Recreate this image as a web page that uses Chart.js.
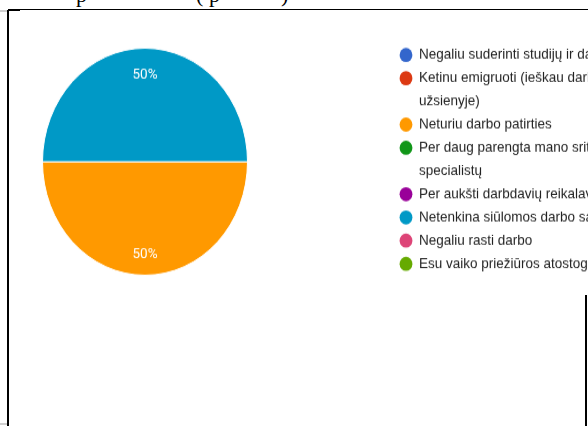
<!DOCTYPE html>
<html lang="lt">
<head>
    <meta charset="UTF-8">
    <title>Priežastys</title>
    <script src="https://cdn.jsdelivr.net/npm/chart.js"></script>
    <style>
        body { margin: 0; width: 588px; height: 426px; background: #fff; overflow: hidden; position: relative; }
        .line { position: absolute; background: #000; }
        .grey { position: absolute; background: #d0d0d0; }
        .top-txt { position: absolute; top: -16px; font: 22px/22px "Liberation Serif", serif; color: #000; }
        #pyrago { position: absolute; left: 10px; top: 11px; transform: scaleY(1.108); transform-origin: 0 0; }
    </style>
</head>
<body>
    <!-- dokumento remelis -->
    <span class="top-txt" style="left:76px">p</span>
    <span class="top-txt" style="left:196px">(</span>
    <span class="top-txt" style="left:209px">p</span>
    <span class="top-txt" style="left:281px">)</span>
    <div class="line" style="left:8px; top:9px; width:580px; height:1px"></div>
    <div class="line" style="left:8px; top:10px; width:12px; height:1px"></div>
    <div class="grey" style="left:0; top:10px; width:8px; height:2px"></div>
    <div class="line" style="left:7px; top:10px; width:2px; height:416px"></div>
    <div class="grey" style="left:0; top:423px; width:7px; height:2px"></div>
    <div class="line" style="left:585px; top:295px; width:2px; height:131px"></div>

    <canvas id="pyrago" width="578" height="375"></canvas>

<script>
    // duomenys
    var atsakymai = [
        ['Negaliu suderinti studijų ir darbo'],
        ['Ketinu emigruoti (ieškau darbo', 'užsienyje)'],
        ['Neturiu darbo patirties'],
        ['Per daug parengta mano srities', 'specialistų'],
        ['Per aukšti darbdavių reikalavimai'],
        ['Netenkina siūlomos darbo sąlygos'],
        ['Negaliu rasti darbo'],
        ['Esu vaiko priežiūros atostogose']
    ]
    var kiekis = [0, 0, 1, 0, 0, 1, 0, 0]
    var spalvos = ['#3366CC', '#DC3912', '#FF9900', '#109618', '#990099', '#0099C6', '#DD4477', '#66AA00']

    // procentai ant pyrago
    var procentai = {
        id: 'procentai',
        afterDatasetsDraw(chart) {
            var ctx = chart.ctx
            var viso = kiekis.reduce((a, b) => a + b, 0)
            var meta = chart.getDatasetMeta(0)
            ctx.save()
            ctx.fillStyle = '#fff'
            ctx.font = '13.5px Roboto, Arial, sans-serif'
            ctx.textAlign = 'center'
            ctx.textBaseline = 'middle'
            meta.data.forEach(function (arc, i) {
                if (!kiekis[i]) return
                var p = arc.getProps(['x', 'y', 'startAngle', 'endAngle', 'outerRadius'])
                var vid = (p.startAngle + p.endAngle) / 2
                var r = p.outerRadius * 0.79
                ctx.fillText(Math.round(kiekis[i] / viso * 100) + '%', p.x + Math.cos(vid) * r, p.y + Math.sin(vid) * r + 2.5)
            })
            ctx.restore()
        }
    }

    // legenda su keliomis eilutemis
    var legenda = {
        id: 'legenda',
        afterDraw(chart) {
            var ctx = chart.ctx
            var eil = 0
            ctx.save()
            ctx.font = '13.5px Arial, "Liberation Sans", sans-serif'
            ctx.textBaseline = 'middle'
            atsakymai.forEach(function (lab, i) {
                var y = 39.7 + eil * 20.94
                ctx.fillStyle = spalvos[i]
                ctx.beginPath()
                ctx.arc(396, y, 6.4, 0, Math.PI * 2)
                ctx.fill()
                ctx.fillStyle = '#222'
                lab.forEach(function (t) {
                    ctx.fillText(t, 409, 39.7 + eil * 20.94)
                    eil++
                })
            })
            ctx.restore()
        }
    }

    new Chart(document.getElementById('pyrago'), {
        type: 'pie',
        data: {
            labels: atsakymai.map(a => a.join(' ')),
            datasets: [{
                data: kiekis,
                backgroundColor: spalvos,
                borderColor: '#fff',
                borderWidth: kiekis.map(v => v ? 1 : 0)
            }]
        },
        options: {
            responsive: false,
            animation: false,
            devicePixelRatio: 1,
            rotation: 90,
            layout: { padding: { left: 32, top: 33, right: 340, bottom: 136 } },
            plugins: {
                legend: { display: false },
                tooltip: { enabled: false }
            }
        },
        plugins: [procentai, legenda]
    })
</script>
</body>
</html>
